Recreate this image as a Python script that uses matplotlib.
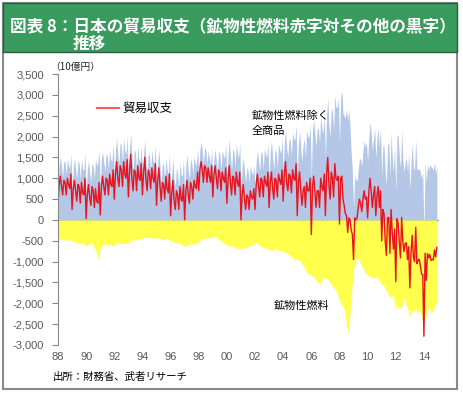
import numpy as np
import matplotlib
matplotlib.use('Agg')
import matplotlib.pyplot as plt
from matplotlib.patches import Rectangle

plt.rcParams['font.family'] = ['Noto Sans CJK JP', 'DejaVu Sans']

# 貿易収支（10億円、月次 1988/01 - 2014/12）
trade = [
    400, 850, 1050, 800, 600, 950, 900, 600, 1000, 850, 750, 1100,      # 1988
    250, 750, 950, 700, 450, 850, 800, 400, 900, 650, 600, 1000,        # 1989
    30, 600, 850, 550, 350, 800, 700, 300, 750, 450, 400, 900,          # 1990
    120, 800, 1050, 800, 600, 1000, 950, 600, 1100, 850, 800, 1200,     # 1991
    500, 1100, 1400, 1000, 800, 1300, 1200, 800, 1400, 1100, 1000, 1450,  # 1992
    550, 1150, 1580, 1000, 700, 1200, 1150, 700, 1300, 1000, 950, 1350,   # 1993
    600, 1150, 1500, 950, 700, 1200, 1100, 750, 1250, 1000, 900, 1350,    # 1994
    350, 950, 1250, 800, 450, 900, 850, 500, 1050, 750, 650, 1100,      # 1995
    100, 650, 950, 450, 250, 700, 600, 250, 800, 500, 450, 850,         # 1996
    0, 700, 950, 600, 400, 900, 800, 500, 950, 800, 750, 1150,          # 1997
    700, 1200, 1400, 1200, 900, 1300, 1250, 900, 1250, 1050, 900, 1300,   # 1998
    550, 1100, 1300, 1000, 750, 1200, 1100, 700, 1150, 1000, 900, 1250,   # 1999
    400, 950, 1300, 900, 600, 1050, 1000, 600, 1150, 900, 800, 1150,    # 2000
    0, 600, 850, 500, 250, 600, 550, 250, 700, 550, 500, 750,           # 2001
    250, 850, 1100, 800, 550, 1000, 950, 550, 1050, 900, 800, 1150,     # 2002
    300, 900, 1150, 750, 500, 1000, 950, 550, 1100, 950, 850, 1200,     # 2003
    450, 1100, 1400, 900, 700, 1100, 1050, 650, 1200, 1000, 950, 1350,  # 2004
    100, 900, 1150, 700, 350, 700, 800, 300, 900, 700, 700, 1000,       # 2005
    -350, 800, 1050, 700, 300, 700, 700, 300, 1000, 800, 700, 1100,     # 2006
    100, 1100, 1500, 850, 500, 1150, 1000, 550, 1350, 1000, 950, 1050,  # 2007
    -100, 1000, 1050, 500, 350, 150, 100, -300, 50, 0, -250, -350,      # 2008
    -950, 50, 0, 50, 300, 500, 400, 200, 500, 700, 500, 550,            # 2009
    50, 650, 1000, 700, 300, 600, 800, 100, 600, 800, 300, 700,         # 2010
    -500, 250, 150, -500, -850, 50, 60, -800, 250, -300, -700, -220,    # 2011
    -1480, 30, -80, -530, -910, 60, -520, -760, -560, -550, -950, -640,  # 2012
    -1630, -780, -370, -890, -1000, -180, -1050, -970, -940, -1110, -1300, -1310,  # 2013
    -2790, -800, -1450, -810, -910, -830, -970, -950, -960, -720, -890, -660,      # 2014
]

# 鉱物性燃料収支（10億円）
fuel = [
    -470, -450, -460, -480, -450, -470, -480, -490, -470, -460, -480, -490,
    -500, -480, -520, -530, -540, -560, -570, -560, -550, -570, -580, -600,
    -620, -600, -580, -560, -550, -560, -600, -680, -700, -850, -950, -780,
    -700, -650, -600, -580, -560, -580, -590, -600, -580, -590, -610, -620,
    -600, -570, -560, -550, -540, -560, -570, -560, -550, -560, -570, -560,
    -550, -520, -500, -480, -470, -480, -490, -470, -460, -450, -460, -450,
    -440, -420, -420, -410, -400, -420, -430, -420, -430, -420, -440, -450,
    -430, -420, -440, -450, -460, -470, -460, -450, -440, -450, -460, -480,
    -500, -490, -510, -540, -560, -550, -540, -560, -570, -590, -600, -620,
    -640, -620, -600, -580, -570, -560, -580, -590, -580, -570, -560, -550,
    -520, -490, -470, -450, -440, -430, -440, -430, -420, -430, -430, -420,
    -400, -390, -400, -420, -440, -460, -480, -500, -520, -550, -560, -580,
    -600, -610, -630, -620, -610, -640, -660, -650, -680, -700, -690, -680,
    -690, -680, -660, -670, -650, -660, -650, -640, -620, -600, -580, -560,
    -550, -540, -560, -600, -620, -640, -650, -660, -670, -690, -700, -690,
    -700, -720, -760, -740, -700, -680, -690, -700, -720, -740, -730, -760,
    -770, -760, -780, -800, -820, -840, -860, -880, -900, -950, -960, -940,
    -950, -940, -980, -1020, -1050, -1100, -1150, -1200, -1250, -1300, -1280, -1300,
    -1350, -1330, -1360, -1400, -1450, -1480, -1500, -1550, -1500, -1400, -1380, -1400,
    -1400, -1380, -1420, -1450, -1500, -1550, -1600, -1620, -1650, -1700, -1750, -1850,
    -1950, -1950, -2050, -2050, -2150, -2300, -2550, -2700, -2600, -2200, -1850, -1500,
    -1200, -1050, -950, -900, -920, -980, -1050, -1100, -1150, -1200, -1250, -1300,
    -1350, -1300, -1350, -1400, -1380, -1350, -1400, -1380, -1350, -1400, -1450, -1500,
    -1550, -1550, -1600, -1650, -1700, -1750, -1800, -1850, -1850, -1800, -1850, -2000,
    -2150, -2000, -2100, -2050, -2150, -2100, -1950, -1900, -1950, -2050, -2100, -2250,
    -2350, -2150, -2200, -2150, -2200, -2100, -2250, -2200, -2150, -2250, -2300, -2450,
    -2450, -2200, -2350, -2150, -2100, -2150, -2250, -2200, -2150, -2100, -2000, -1950,
]

tick_years = list(range(1988, 2015, 2))
tick_labels = ['88', '90', '92', '94', '96', '98', '00', '02', '04', '06', '08', '10', '12', '14']
y_ticks = list(range(-3000, 3501, 500))

trade = np.array(trade, dtype=float)
fuel = np.array(fuel, dtype=float)
non_fuel = trade - fuel          # 鉱物性燃料除く全商品
t = 1988 + np.arange(len(trade)) / 12.0

W, H = 463, 394
fig = plt.figure(figsize=(W / 100, H / 100), dpi=100)

# 外枠とタイトル帯
fig.patches.append(Rectangle((3 / W, 1 - 389 / H), 454 / W, 386 / H, transform=fig.transFigure,
                             fill=False, edgecolor='#8a8a8a', lw=1.5))
fig.patches.append(Rectangle((3 / W, 1 - 52 / H), 454 / W, 49 / H, transform=fig.transFigure,
                             facecolor='#3a9b5e', edgecolor='#2e5e3e', lw=1.0))
fig.text(10 / W, 1 - 27 / H, '図表 8：日本の貿易収支（鉱物性燃料赤字対その他の黒字）',
         color='white', fontsize=12, fontweight='bold', va='center', ha='left')
fig.text(73 / W, 1 - 44 / H, '推移', color='white', fontsize=12, fontweight='bold',
         va='center', ha='left')

ax = fig.add_axes([58 / W, 1 - 345 / H, 380 / W, 271 / H])
ax.fill_between(t, 0, non_fuel, color='#b4c7e7', lw=0)
ax.fill_between(t, 0, fuel, color='#ffff4d', lw=0)
ax.plot(t, trade, color='#e8141e', lw=1.0)

ax.set_xlim(1988, 2015)
ax.set_ylim(-3000, 3500)
ax.set_yticks(y_ticks)
ax.set_yticklabels([f'{v:,}' for v in y_ticks], family='Liberation Sans', fontsize=8, color='#595959')
ax.set_xticks(tick_years)
ax.set_xticklabels(tick_labels, family='Liberation Sans', fontsize=8, color='#595959')
ax.tick_params(axis='x', length=0, pad=5)
ax.tick_params(axis='y', length=4, color='#888888', pad=6, direction='out')
for s in ['top', 'right', 'bottom']:
    ax.spines[s].set_visible(False)
ax.spines['left'].set_color('#888888')

# 0の横軸
zero_frac = 3000 / 6500
sec = ax.secondary_xaxis(zero_frac)
sec.set_xticks(tick_years)
sec.set_xticklabels([])
sec.tick_params(length=4, color='#8a95a8', direction='out')
sec.spines['bottom'].set_color('#8a95a8')

fig.text(50 / W, 1 - 67 / H, '（10億円）', fontsize=7, va='center', ha='left', color='#222222')
fig.add_artist(plt.Line2D([97 / W, 119 / W], [1 - 108 / H, 1 - 108 / H], color='#ff5a5a', lw=1.5))
fig.text(122 / W, 1 - 108 / H, '貿易収支', fontsize=9, va='center', ha='left')
fig.text(252 / W, 1 - 116 / H, '鉱物性燃料除く', fontsize=8, va='center', ha='left')
fig.text(252 / W, 1 - 131 / H, '全商品', fontsize=8, va='center', ha='left')
fig.text(274 / W, 1 - 306 / H, '鉱物性燃料', fontsize=8, va='center', ha='left')
fig.text(53 / W, 1 - 377 / H, '出所：財務省、武者リサーチ', fontsize=7.5, va='center', ha='left')

fig.savefig('out.png', dpi=100)
